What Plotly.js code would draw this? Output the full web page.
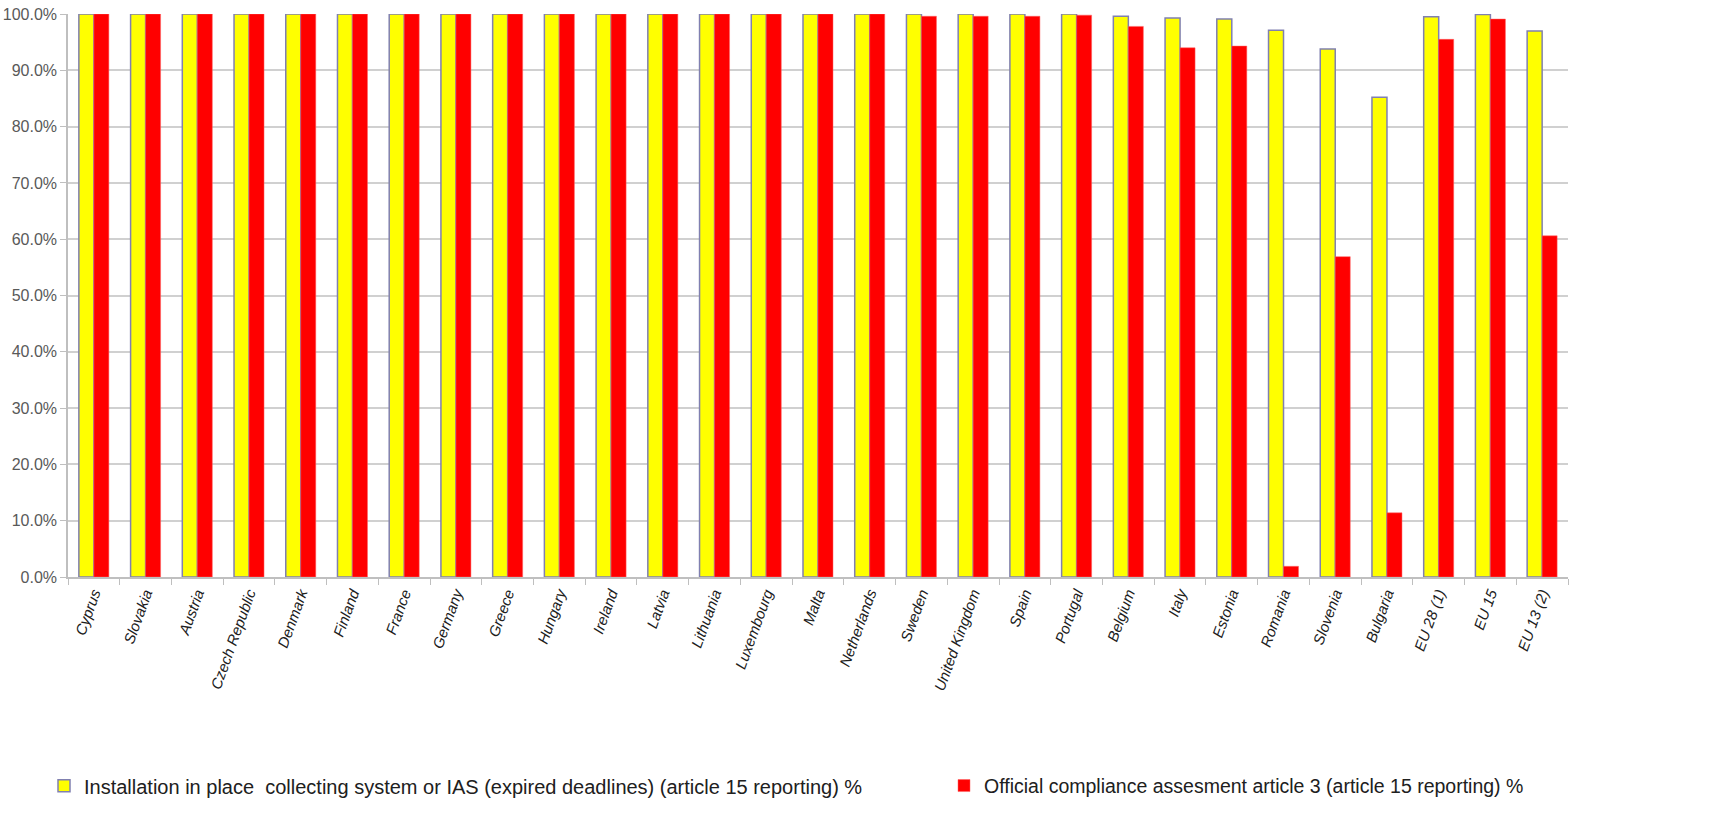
<!DOCTYPE html>
<html><head><meta charset="utf-8">
<script src="https://cdn.plot.ly/plotly-3.0.1.min.js"></script>
<style>body{margin:0;background:#fff}#chart{width:1717px;height:818px}</style>
</head><body><div id="chart"></div>
<script>
const categories = ["Cyprus","Slovakia","Austria","Czech Republic","Denmark","Finland","France","Germany","Greece","Hungary","Ireland","Latvia","Lithuania","Luxembourg","Malta","Netherlands","Sweden","United Kingdom","Spain","Portugal","Belgium","Italy","Estonia","Romania","Slovenia","Bulgaria","EU 28 (1)","EU 15","EU 13 (2)"];
const installation = [100,100,100,100,100,100,100,100,100,100,100,100,100,100,100,100,100,100,100,100,99.6,99.3,99.1,97.1,93.8,85.2,99.5,99.9,97.0];
const compliance = [100,100,100,100,100,100,100,100,100,100,100,100,100,100,100,100,99.6,99.6,99.6,99.8,97.8,94.0,94.3,1.9,56.9,11.4,95.5,99.1,60.6];
const seriesNames = ["Installation in place  collecting system or IAS (expired deadlines) (article 15 reporting) %","Official compliance assesment article 3 (article 15 reporting) %"];
const yTickVals = [0,10,20,30,40,50,60,70,80,90,100];
const yTickText = ["0.0%","10.0%","20.0%","30.0%","40.0%","50.0%","60.0%","70.0%","80.0%","90.0%","100.0%"];

const font = "Liberation Sans, Arial, sans-serif";
const traces = [
  {type:"bar", name:seriesNames[0], x:categories, y:installation, legend:"legend",
   marker:{color:"#FFFF00", line:{color:"#8080B0", width:1.5}}},
  {type:"bar", name:seriesNames[1], x:categories, y:compliance, legend:"legend2",
   marker:{color:"#FF0000", line:{color:"#FF6060", width:0.5}}}
];
const legendFont = {family:font, size:20, color:"#202020"};
const layout = {
  width:1717, height:818,
  margin:{l:68, r:149, t:14, b:236},
  paper_bgcolor:"#fff", plot_bgcolor:"#fff",
  barmode:"group", bargap:0.42, bargroupgap:0,
  font:{family:font, color:"#404040", size:16},
  xaxis:{type:"category", tickangle:-70, tickfont:{family:font, size:15, color:"#202020", style:"italic"},
         showgrid:false, showline:true, linecolor:"#BFBFBF", linewidth:1.5,
         ticks:"outside", tickson:"boundaries", ticklen:6, tickcolor:"#BFBFBF", automargin:false},
  yaxis:{range:[0,100], tickvals:yTickVals, ticktext:yTickText,
         tickfont:{family:font, size:16, color:"#595959"},
         showgrid:true, gridcolor:"#D0D0D0", gridwidth:1.5,
         showline:true, linecolor:"#BFBFBF", linewidth:1.5, ticks:"outside", ticklen:6, tickcolor:"#BFBFBF",
         zeroline:false, automargin:false},
  showlegend:true,
  legend:{orientation:"h", x:-0.016, y:-0.371, xanchor:"left", yanchor:"middle",
          font:legendFont, itemwidth:30, bgcolor:"rgba(0,0,0,0)"},
  legend2:{orientation:"h", x:0.584, y:-0.371, xanchor:"left", yanchor:"middle",
          font:{family:font, size:19.5, color:"#202020"}, itemwidth:30, bgcolor:"rgba(0,0,0,0)"}
};
Plotly.newPlot("chart", traces, layout, {displayModeBar:false});
</script></body></html>
